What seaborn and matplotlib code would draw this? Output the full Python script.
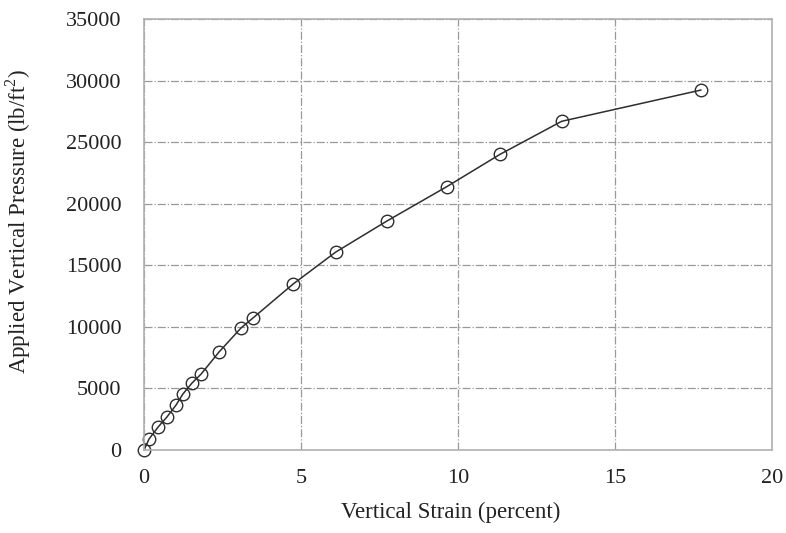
import matplotlib
matplotlib.use('Agg')
import matplotlib.pyplot as plt
import seaborn as sns
import pandas as pd

# strain (percent) vs applied vertical pressure (lb/ft^2)
strain = [0.0, 0.16, 0.45, 0.73, 1.02, 1.24, 1.53, 1.82, 2.39, 3.09, 3.47,
          4.75, 6.11, 7.74, 9.64, 11.34, 13.30, 17.74]
pressure = [0, 890, 1870, 2680, 3650, 4550, 5440, 6170, 7960, 9910, 10720,
            13480, 16080, 18600, 21380, 24010, 26690, 29230]
x_ticks = [0, 5, 10, 15, 20]
y_ticks = [0, 5000, 10000, 15000, 20000, 25000, 30000, 35000]

df = pd.DataFrame({'strain': strain, 'pressure': pressure})

sns.set_style('white')
plt.rcParams['font.family'] = ['Liberation Serif', 'DejaVu Serif']
plt.rcParams['mathtext.fontset'] = 'custom'
plt.rcParams['mathtext.rm'] = 'Liberation Serif'

fig = plt.figure(figsize=(7.86, 5.33), dpi=100)
ax = fig.add_axes([0.1832, 0.1557, 0.7990, 0.8087])

sns.lineplot(data=df, x='strain', y='pressure', ax=ax, color='#2e2e2e',
             linewidth=1.1, marker='o', markersize=9, markerfacecolor='none',
             markeredgecolor='#2e2e2e', markeredgewidth=1.0, sort=False)

ax.set_xlim(0, 20)
ax.set_ylim(0, 35000)
ax.set_xticks(x_ticks)
ax.set_yticks(y_ticks)
ax.grid(True, color='#999999', linestyle='-.', linewidth=0.9)
ax.set_axisbelow(True)
for line in ax.lines:
    line.set_clip_on(False)

for s in ax.spines.values():
    s.set_color('#b0b0b0')
    s.set_linewidth(1.2)

ax.tick_params(axis='both', direction='out', length=5.8, width=1,
               color='#b0b0b0', labelsize=16, labelcolor='#222222')
ax.tick_params(axis='x', pad=8)
ax.tick_params(axis='y', pad=10.5)

ax.set_xlabel('Vertical Strain (percent)', fontsize=16.5, color='#222222')
ax.set_ylabel('Applied Vertical Pressure (lb/ft$^{2}$)', fontsize=16.5,
              color='#222222')
ax.xaxis.set_label_coords(0.489, -0.120)
ax.yaxis.set_label_coords(-0.177, 0.53)

fig.savefig('out.png', dpi=100)
